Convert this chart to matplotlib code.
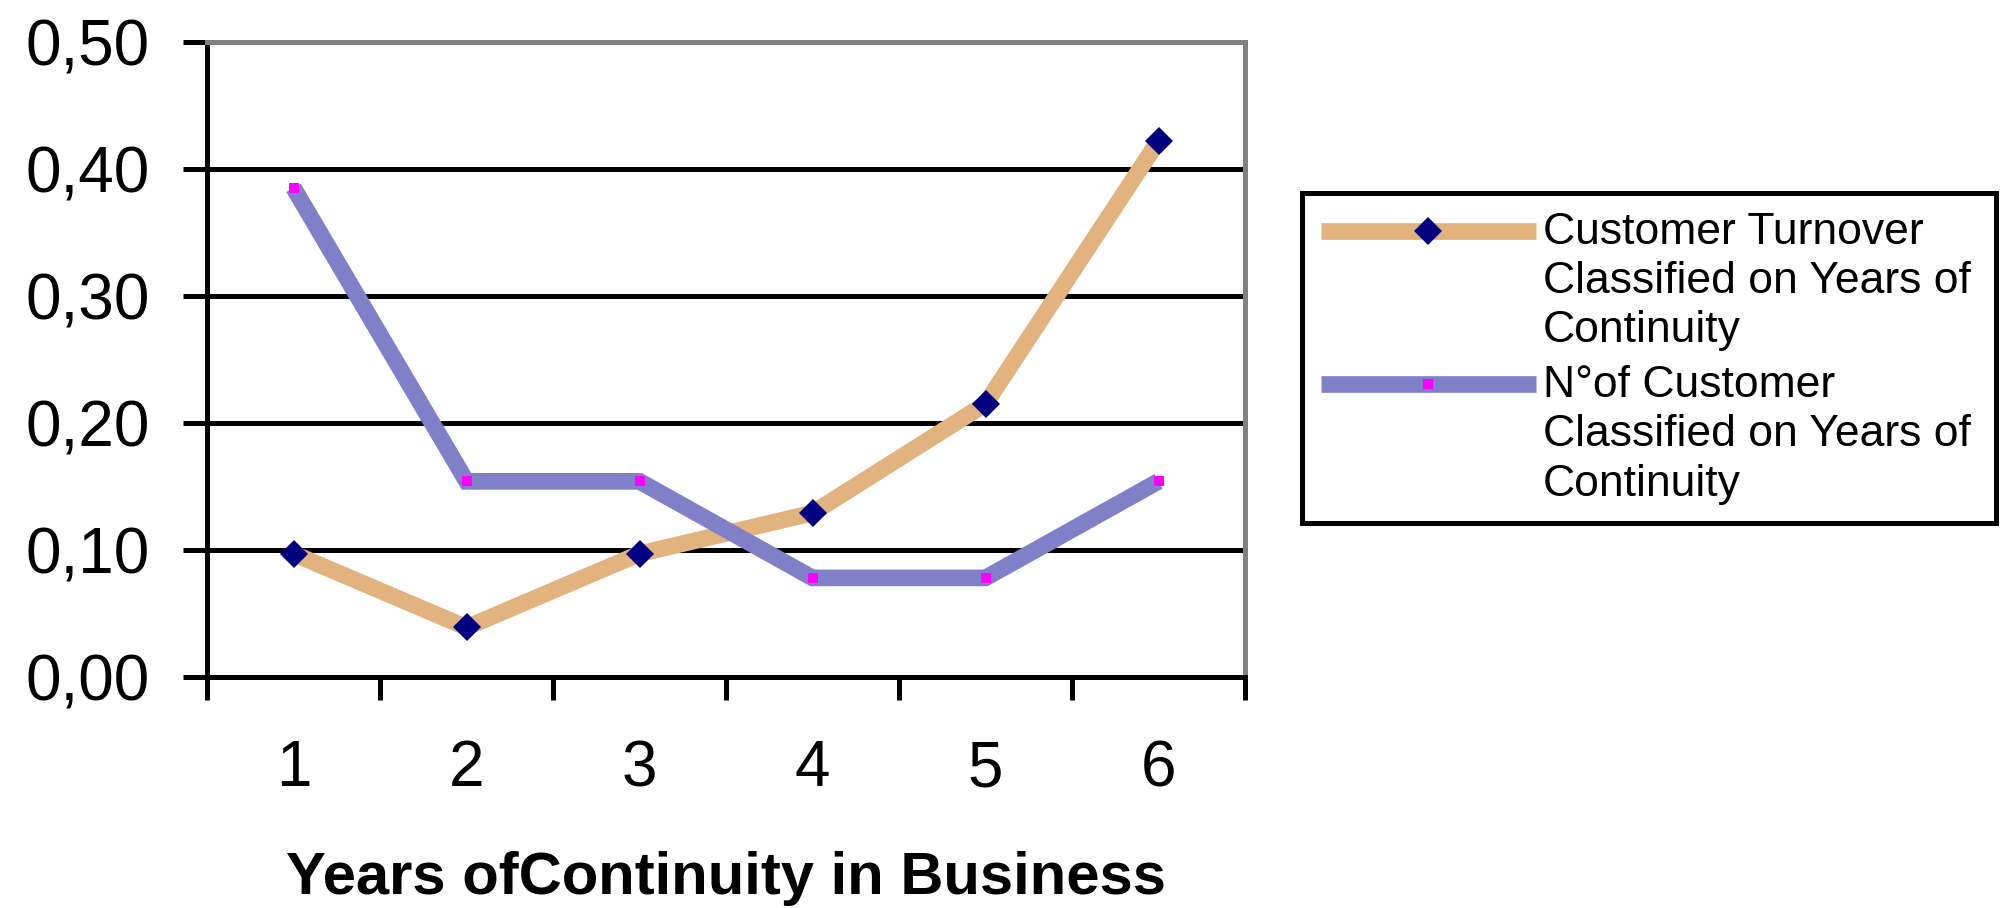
import numpy as np
import matplotlib
matplotlib.use("Agg")
import matplotlib.pyplot as plt
from matplotlib.lines import Line2D
from matplotlib.legend_handler import HandlerLine2D

# ---- data ----
categories = ["1", "2", "3", "4", "5", "6"]
turnover = [0.097, 0.039, 0.097, 0.129, 0.215, 0.422]
customers = [0.385, 0.154, 0.154, 0.078, 0.078, 0.154]
ytick_values = [0.0, 0.1, 0.2, 0.3, 0.4, 0.5]
ytick_labels = ["0,00", "0,10", "0,20", "0,30", "0,40", "0,50"]
series_labels = ["Customer Turnover\nClassified on Years of\nContinuity",
                 "N°of Customer\nClassified on Years of\nContinuity"]
xlabel_text = "Years ofContinuity in Business"

plt.rcParams['font.family'] = ['Liberation Sans', 'DejaVu Sans']

W, H = 2005, 908
fig = plt.figure(figsize=(W / 100, H / 100), dpi=100)
fig.patch.set_facecolor("white")
ax = fig.add_axes([207 / W, 1 - 677 / H, (1245 - 207) / W, (677 - 41.7) / H])

x = np.arange(1, len(categories) + 1)
lw = 12
ax.plot(x, turnover, color="#E2B27F", lw=lw, solid_capstyle="butt",
        solid_joinstyle="miter", marker="D", ms=14.5, mfc="#000080",
        mec="#000080", mew=0, zorder=3, label=series_labels[0])
ax.plot(x, customers, color="#8080C8", lw=lw, solid_capstyle="butt",
        solid_joinstyle="miter", marker="s", ms=7.5, mfc="#FF00FF",
        mec="#FF00FF", mew=0, zorder=4, label=series_labels[1])

# axes limits and ticks
ax.set_ylim(0, 0.5)
ax.set_xlim(0.5, len(categories) + 0.5)
ax.set_yticks(ytick_values, ytick_labels)
ax.set_xticks(x, categories)
ax.set_xticks(np.arange(0.5, len(categories) + 1), minor=True)

gl = 3.6
ax.tick_params(axis="y", which="major", direction="out", length=17, width=gl,
               pad=24, labelsize=46, color="black")
ax.tick_params(axis="x", which="major", length=0, pad=45, labelsize=46)
ax.tick_params(axis="x", which="minor", direction="out", length=16.5,
               width=gl, color="black")

ax.yaxis.grid(True, color="black", lw=gl)
ax.set_axisbelow("line")

for s in ["left", "bottom"]:
    ax.spines[s].set_color("black")
    ax.spines[s].set_linewidth(gl)
for s in ["top", "right"]:
    ax.spines[s].set_color("#808080")
    ax.spines[s].set_linewidth(gl)

ax.set_xlabel(xlabel_text, fontsize=43, fontweight="bold")
ax.xaxis.set_label_coords(0.5, -0.274)


class FirstLineHandler(HandlerLine2D):
    def __init__(self, shift, **kw):
        super().__init__(**kw)
        self.shift = shift

    def create_artists(self, legend, orig_handle, xdescent, ydescent,
                       width, height, fontsize, trans):
        artists = super().create_artists(legend, orig_handle, xdescent,
                                         ydescent, width, height, fontsize,
                                         trans)
        for a in artists:
            a.set_ydata(np.asarray(a.get_ydata(), float) + self.shift)
        return artists


leg = ax.legend(loc="upper left",
                bbox_to_anchor=(1302 / W, 1 - 193 / H, (1996 - 1302) / W, 0.0),
                bbox_transform=fig.transFigure, mode="expand",
                borderaxespad=0, frameon=True, fancybox=False,
                edgecolor="black", framealpha=1, shadow=False,
                prop={"size": 32}, handlelength=4.85, handletextpad=0.15,
                borderpad=0.42, labelspacing=0.31, numpoints=1,
                handler_map={Line2D: FirstLineHandler(shift=37)})
leg.get_frame().set_linewidth(gl)
for t in leg.get_texts():
    t.set_linespacing(1.26)

fig.savefig("out.png", dpi=100, facecolor="white")
